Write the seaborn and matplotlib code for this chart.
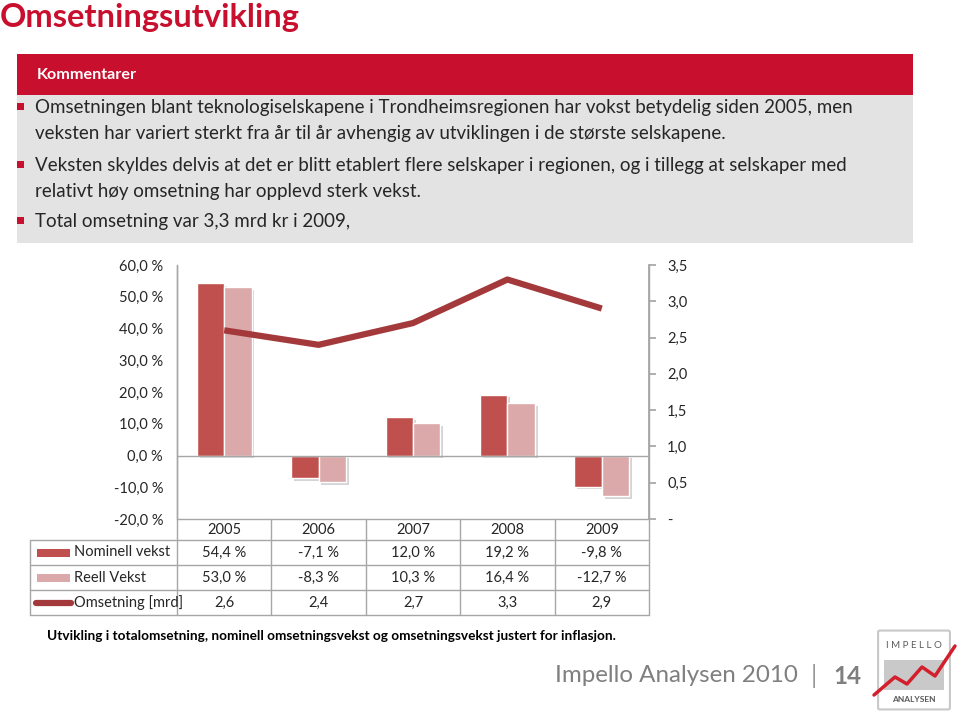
import numpy as np
import pandas as pd
import matplotlib
matplotlib.use("Agg")
import matplotlib.pyplot as plt
import matplotlib.patheffects as pe
from matplotlib.patches import Rectangle, FancyBboxPatch
from matplotlib.lines import Line2D
import seaborn as sns

# ---------------- data ----------------
years = ["2005", "2006", "2007", "2008", "2009"]
nominell = [54.4, -7.1, 12.0, 19.2, -9.8]
reell = [53.0, -8.3, 10.3, 16.4, -12.7]
omsetning = [2.6, 2.4, 2.7, 3.3, 2.9]
series_names = ["Nominell vekst", "Reell Vekst", "Omsetning [mrd]"]
left_ticks = [-20, -10, 0, 10, 20, 30, 40, 50, 60]
right_ticks = [0, 0.5, 1.0, 1.5, 2.0, 2.5, 3.0, 3.5]

title = "Omsetningsutvikling"
box_header = "Kommentarer"
bullets = [
    ["Omsetningen blant teknologiselskapene i Trondheimsregionen har vokst betydelig siden 2005, men",
     "veksten har variert sterkt fra år til år avhengig av utviklingen i de største selskapene."],
    ["Veksten skyldes delvis at det er blitt etablert flere selskaper i regionen, og i tillegg at selskaper med",
     "relativt høy omsetning har opplevd sterk vekst."],
    ["Total omsetning var 3,3 mrd kr i 2009,"],
]
caption = "Utvikling i totalomsetning, nominell omsetningsvekst og omsetningsvekst justert for inflasjon."
footer = "Impello Analysen 2010"
page_no = "14"

# ---------------- style ----------------
sns.set_theme(style="white")
plt.rcParams["font.family"] = ["Lato", "DejaVu Sans"]

RED = "#C8102E"
C_NOM = "#C0504D"
C_REAL = "#DCA9AA"
C_LINE = "#A3393A"
GRID = "#A6A6A6"
TXT = "#262626"

W, H = 959, 718
fig = plt.figure(figsize=(W / 100, H / 100), dpi=100)
fig.patch.set_facecolor("white")


def P(x, y):
    return (x / W, 1 - y / H)


renderer = fig.canvas.get_renderer()


def ftext(x, y, s, fs, target_w=None, **kw):
    t = fig.text(*P(x, y), s, fontsize=fs, **kw)
    if target_w is not None:
        bb = t.get_window_extent(renderer=renderer)
        t.set_fontsize(fs * target_w / bb.width)
    return t


# ---------------- header ----------------
ftext(0, 18, title, 22, target_w=300, color=RED, fontweight="bold", va="center", ha="left")
fig.patches.append(Rectangle(P(17, 95), (913 - 17) / W, (95 - 54) / H, transform=fig.transFigure,
                             facecolor=RED, edgecolor="none"))
fig.patches.append(Rectangle(P(17, 243), (913 - 17) / W, (243 - 95) / H, transform=fig.transFigure,
                             facecolor="#E3E3E3", edgecolor="none"))
ftext(37, 75, box_header, 10.5, target_w=100, color="white", fontweight="bold", va="center")

# bullet font size fitted once on the first line, then shared
probe = ftext(35, 108, bullets[0][0], 12.5, target_w=821, color=TXT, va="center")
bfs = probe.get_fontsize()
line_y = [[108, 133], [166, 191], [222]]
for b, ys in zip(bullets, line_y):
    fig.patches.append(Rectangle(P(17, ys[0] + 2), 7 / W, 7 / H, transform=fig.transFigure,
                                 facecolor=RED, edgecolor="none"))
    for k, (s, y) in enumerate(zip(b, ys)):
        if b is bullets[0] and k == 0:
            continue
        ftext(35, y, s, bfs, color=TXT, va="center")

# ---------------- chart ----------------
ax_l, ax_r, ax_t, ax_b = 177, 649, 265, 519
ax = fig.add_axes([ax_l / W, 1 - ax_b / H, (ax_r - ax_l) / W, (ax_b - ax_t) / H])

df = pd.DataFrame({
    "year": years * 2,
    "value": nominell + reell,
    "series": [series_names[0]] * len(years) + [series_names[1]] * len(years),
})
sns.barplot(data=df, x="year", y="value", hue="series", order=years,
            hue_order=series_names[:2], palette=[C_NOM, C_REAL], width=0.58,
            saturation=1, edgecolor="white", linewidth=1.0, legend=False, ax=ax)
for p in ax.patches:
    p.set_path_effects([pe.SimplePatchShadow(offset=(2, -2), alpha=0.25, shadow_rgbFace="#555555"),
                        pe.Normal()])

ax.set_xlim(-0.5, len(years) - 0.5)
ax.set_ylim(-20, 60)
ax.set_yticks(left_ticks)
ax.set_yticklabels([f"{v:.1f}".replace(".", ",") + " %" for v in left_ticks])
ax.axhline(0, color=GRID, lw=1)
ax.set_xticks([])
ax.set_xlabel("")
ax.set_ylabel("")
ax.tick_params(axis="y", labelsize=10.5, labelcolor=TXT, length=0, pad=10)
for s in ["top", "bottom", "right"]:
    ax.spines[s].set_visible(False)
ax.spines["left"].set_color(GRID)
ax.spines["left"].set_linewidth(1)
ax.set_facecolor("none")

ax2 = ax.twinx()
sns.lineplot(x=years, y=omsetning, ax=ax2, color=C_LINE, linewidth=4.5,
             solid_capstyle="butt", sort=False)
ax2.set_ylim(0, 3.5)
ax2.set_yticks(right_ticks)
ax2.set_yticklabels(["-" if v == 0 else f"{v:.1f}".replace(".", ",") for v in right_ticks])
ax2.tick_params(axis="y", labelsize=10.5, labelcolor=TXT, length=5, color=GRID, pad=8, direction="out")
for s in ["top", "bottom", "left"]:
    ax2.spines[s].set_visible(False)
ax2.spines["right"].set_color(GRID)
ax2.set_xticks([])
ax2.set_xlabel("")
ax2.set_ylabel("")

# ---------------- data table ----------------
tab_left = 30
row_edges = [519, 540, 565, 590, 615]
col_w = (ax_r - ax_l) / len(years)
col_edges = [ax_l + i * col_w for i in range(len(years) + 1)]


def fline(x0, y0, x1, y1, **kw):
    fig.lines.append(Line2D([x0 / W, x1 / W], [1 - y0 / H, 1 - y1 / H], transform=fig.transFigure, **kw))


fline(ax_l, row_edges[0], ax_r, row_edges[0], color=GRID, lw=1)
for y in row_edges[1:]:
    fline(tab_left, y, ax_r, y, color=GRID, lw=1)
fline(tab_left, row_edges[1], tab_left, row_edges[-1], color=GRID, lw=1)
for x in col_edges:
    fline(x, ax_t if x in (ax_l, ax_r) else row_edges[0], x, row_edges[-1], color=GRID, lw=1)

mid = lambda i: (row_edges[i] + row_edges[i + 1]) / 2
for j, yr in enumerate(years):
    cx = (col_edges[j] + col_edges[j + 1]) / 2
    ftext(cx, mid(0), yr, 10.5, color=TXT, ha="center", va="center")
    ftext(cx, mid(1), f"{nominell[j]:.1f}".replace(".", ",") + " %", 10.5, color=TXT, ha="center", va="center")
    ftext(cx, mid(2), f"{reell[j]:.1f}".replace(".", ",") + " %", 10.5, color=TXT, ha="center", va="center")
    ftext(cx, mid(3), f"{omsetning[j]:.1f}".replace(".", ","), 10.5, color=TXT, ha="center", va="center")

# legend keys in row headers
fig.patches.append(Rectangle(P(37, mid(1) + 4), 33 / W, 8 / H, transform=fig.transFigure,
                             facecolor=C_NOM, edgecolor="none"))
fig.patches.append(Rectangle(P(37, mid(2) + 4), 33 / W, 8 / H, transform=fig.transFigure,
                             facecolor=C_REAL, edgecolor="none"))
fline(36, mid(3), 71, mid(3), color=C_LINE, lw=4.5, solid_capstyle="round")
for i, name in enumerate(series_names):
    ftext(74, mid(i + 1), name, 10.5, color=TXT, ha="left", va="center")

# ---------------- caption & footer ----------------
ftext(47, 636, caption, 10, target_w=570, color="black", fontweight="bold", va="center")
ftext(555, 676, footer, 18, target_w=243, color="#7F7F7F", va="center")
ftext(811, 676, "|", 18, color="#9A9A9A", va="center")
ftext(833, 676, page_no, 18, target_w=28, color="#7F7F7F", fontweight="bold", va="center")

# logo
fig.patches.append(FancyBboxPatch(P(880, 708), 68 / W, 76 / H, boxstyle="round,pad=0.002",
                                  transform=fig.transFigure, facecolor="white", edgecolor="#C8C8C8", lw=1.5))
fig.patches.append(Rectangle(P(884, 690), 60 / W, 30 / H, transform=fig.transFigure,
                             facecolor="#C9C9C9", edgecolor="none"))
ftext(914, 645, "I M P E L L O", 8, target_w=56, color="#5A5A5A", ha="center", va="center")
ftext(914, 699, "ANALYSEN", 6, target_w=44, color="#5A5A5A", ha="center", va="center", fontweight="bold")
zx = [874, 895, 907, 922, 935, 955]
zy = [695, 677, 684, 667, 676, 646]
fig.lines.append(Line2D([x / W for x in zx], [1 - y / H for y in zy], transform=fig.transFigure,
                        color="#D21F2B", lw=2.5, solid_capstyle="round", solid_joinstyle="round"))

fig.savefig("out.png", dpi=100, facecolor="white")
